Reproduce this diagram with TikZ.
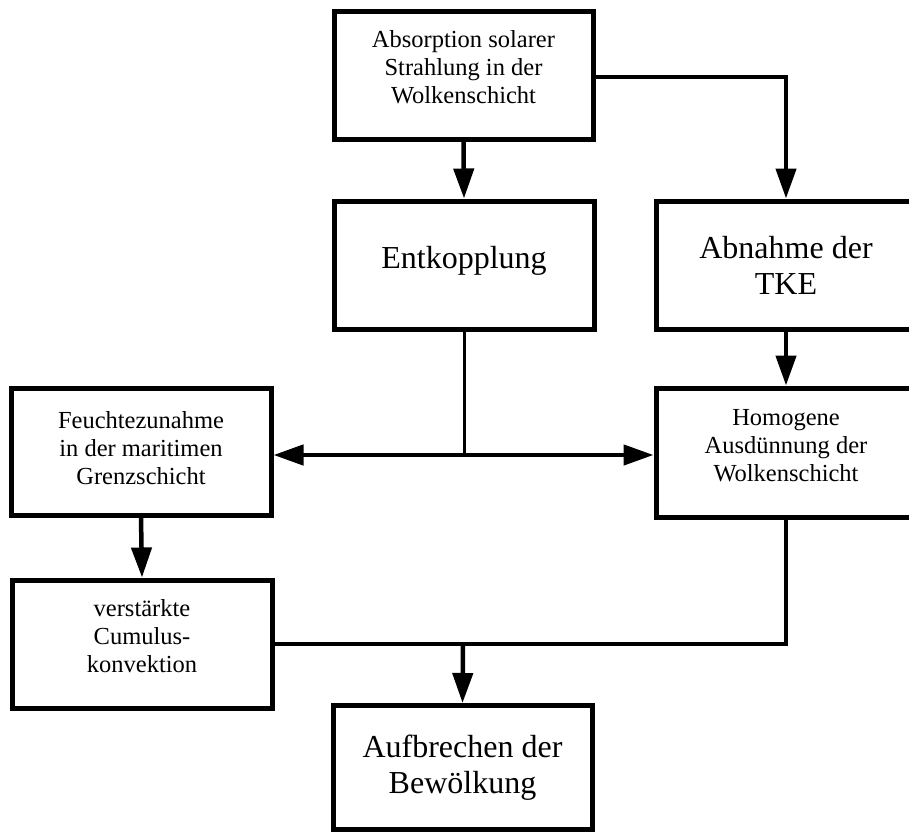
\documentclass[tikz,border=0pt]{standalone}
\usepackage{fontspec}
\setmainfont{Liberation Serif}
\usetikzlibrary{arrows.meta}
\tikzset{
  box/.style={draw, line width=5pt, minimum width=260pt, minimum height=127pt, inner sep=0pt},
  txt/.style={inner sep=0pt, align=center},
  small/.style={txt, font=\fontsize{24.5}{28}\selectfont},
  big/.style={txt, font=\fontsize{32}{36}\selectfont},
  conn/.style={line width=4.5pt, -{Triangle[length=30pt,width=20pt]}},
  plain/.style={line width=4.5pt},
}
\begin{document}
\begin{tikzpicture}[x=1pt,y=-1pt]
\useasboundingbox (0,0) rectangle (909,832);
\clip (0,0) rectangle (909,832);
\node[box,minimum width=259pt] (abs) at (463.5,75.5) {};
\node[small] (absT) at ([yshift=8pt]abs.center) {Absorption solarer\\Strahlung in der\\Wolkenschicht};
\node[box,minimum height=128pt] (ent) at (464,265) {};
\node[big] (entT) at ([yshift=4pt]ent.center) {Entkopplung};
\node[box,minimum height=128pt] (abn) at (786,265) {};
\node[big] (abnT) at (abn.center) {Abnahme der\\TKE};
\node[box] (feu) at (141,451.5) {};
\node[small] (feuT) at ([yshift=3pt]feu.center) {Feuchtezunahme\\in der maritimen\\Grenzschicht};
\node[box,minimum height=129pt] (hom) at (786,452.5) {};
\node[small] (homT) at ([yshift=7pt]hom.center) {Homogene\\Ausdünnung der\\Wolkenschicht};
\node[box,minimum height=128pt] (ver) at (142,644) {};
\node[small] (verT) at ([yshift=8pt]ver.center) {verstärkte\\Cumulus-\\konvektion};
\node[box,minimum width=259pt,minimum height=124pt] (auf) at (462.5,767.5) {};
\node[big] (aufT) at (auf.center) {Aufbrechen der\\Bewölkung};
\coordinate (j1) at (464,455);
\coordinate (j2) at (463,644);
\draw[conn] (abs.south) -- (ent.north);
\draw[conn] (abs.east |- 0,77) -| (abn.north);
\draw[line width=3pt] (ent.south) -- (j1);
\draw[conn] (j1) -- (j1 -| feu.east);
\draw[conn] (j1) -- (j1 -| hom.west);
\draw[conn] (abn.south) -- (hom.north);
\draw[conn] (feu.south) -- (ver.north);
\draw[plain] (ver.east) -- (j2) -| (hom.south);
\draw[conn] (j2) -- (auf.north);
\end{tikzpicture}
\end{document}
